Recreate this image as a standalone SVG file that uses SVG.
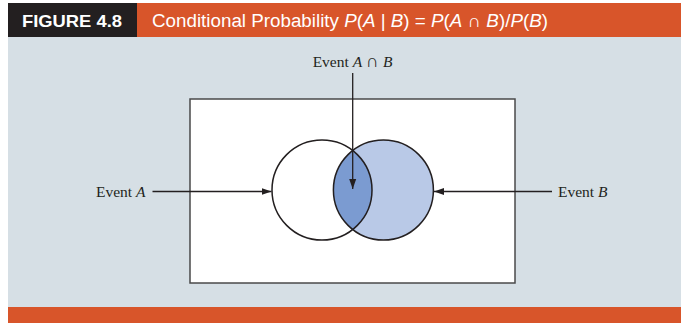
<svg xmlns="http://www.w3.org/2000/svg" width="681" height="323" viewBox="0 0 681 323">
<style>
.lbl{font-family:"Liberation Serif","Times New Roman",serif;font-size:15.5px;fill:#231f20}
.ln{stroke:#231f20;stroke-width:1.3;fill:none}
.circ{stroke:#231f20;stroke-width:1.5}
</style>
<defs>
<marker id="ah" viewBox="0 0 10 10" refX="10" refY="5" markerWidth="10" markerHeight="10" markerUnits="userSpaceOnUse" orient="auto">
<path d="M0,1.5 L10,5 L0,8.5 Z" fill="#231f20"/>
</marker>
</defs>
<rect x="0" y="0" width="681" height="323" fill="#ffffff"/>
<rect x="8" y="37" width="673" height="270" fill="#d6dfe5"/>
<g id="header">
<rect x="8" y="3" width="129" height="34" fill="#231f20"/>
<rect x="137" y="3" width="544" height="34" fill="#d8552a"/>
<text x="22" y="26.5" font-family="'Liberation Sans',Arial,sans-serif" font-size="16.5" font-weight="bold" fill="#ffffff" textLength="100" lengthAdjust="spacingAndGlyphs">FIGURE 4.8</text>
<text x="152" y="26.5" font-family="'Liberation Sans',Arial,sans-serif" font-size="18" fill="#ffffff" textLength="396" lengthAdjust="spacingAndGlyphs">Conditional Probability <tspan font-style="italic">P</tspan>(<tspan font-style="italic">A</tspan> | <tspan font-style="italic">B</tspan>) = <tspan font-style="italic">P</tspan>(<tspan font-style="italic">A</tspan> ∩ <tspan font-style="italic">B</tspan>)/<tspan font-style="italic">P</tspan>(<tspan font-style="italic">B</tspan>)</text>
</g>
<rect x="8" y="307" width="673" height="16" fill="#d8552a"/>
<g id="sample-space">
<rect x="190" y="99" width="325" height="184" fill="#ffffff" stroke="#4a4a4a" stroke-width="1.5"/>
</g>
<g id="event-A">
<circle cx="322" cy="190" r="50" fill="#ffffff"/>
</g>
<g id="event-B">
<circle cx="383.4" cy="190" r="50" fill="#b9c9e7"/>
</g>
<g id="intersection">
<path d="M352.7,150.4 A50,50 0 0 1 352.7,229.6 A50,50 0 0 1 352.7,150.4 Z" fill="#7b9bd1"/>
</g>
<circle class="circ" cx="322" cy="190" r="50" fill="none"/>
<circle class="circ" cx="383.4" cy="190" r="50" fill="none"/>
<g id="connectors">
<line class="ln" x1="152.5" y1="191.5" x2="271.5" y2="191.5" marker-end="url(#ah)"/>
<line class="ln" x1="552" y1="191.5" x2="434" y2="191.5" marker-end="url(#ah)"/>
<line class="ln" x1="352.7" y1="73" x2="352.7" y2="189" marker-end="url(#ah)"/>
</g>
<g id="labels">
<text class="lbl" x="96" y="196.5">Event <tspan font-style="italic">A</tspan></text>
<text class="lbl" x="558" y="196.5">Event <tspan font-style="italic">B</tspan></text>
<text class="lbl" x="352.5" y="66.5" text-anchor="middle">Event <tspan font-style="italic">A</tspan> <tspan font-size="18">∩</tspan> <tspan font-style="italic">B</tspan></text>
</g>
</svg>
